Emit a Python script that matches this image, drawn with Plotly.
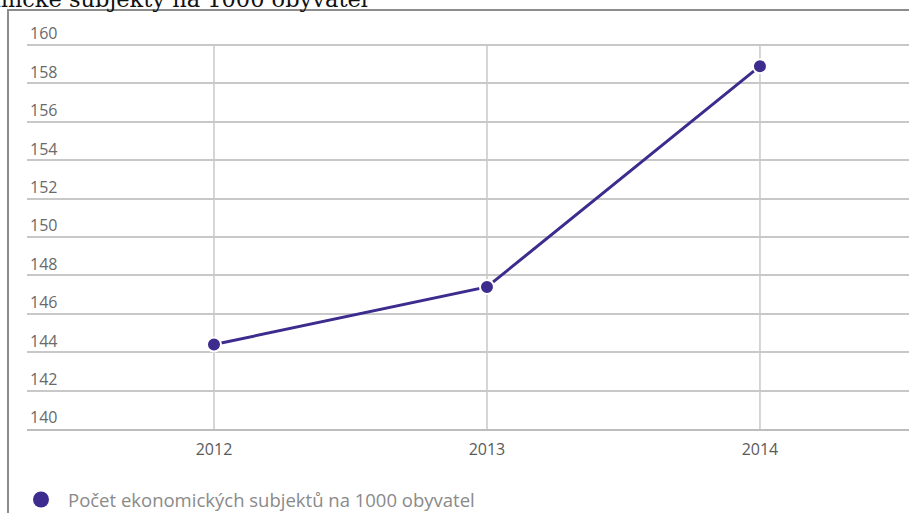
import plotly.graph_objects as go

years = [2012, 2013, 2014]
values = [144.4, 147.4, 158.9]
series_name = "Počet ekonomických subjektů na 1000 obyvatel"
title_text = "Ekonomické subjekty na 1000 obyvatel"
y_ticks = list(range(140, 161, 2))
y_min, y_max, y_top = 140, 160, 161.2

W, H = 909, 513
L, R, T, B = 27, 0, 22, 84
pw, ph = W - L - R, H - T - B

def px(x):
    return (x - L) / pw

def py(y):
    return (H - B - y) / ph

color = "#3d2b8e"
grid = "#c8c8c8"

fig = go.Figure()
fig.add_trace(go.Scatter(
    x=years, y=values, mode="lines+markers",
    line=dict(color=color, width=3),
    marker=dict(size=14, color=color, line=dict(color="white", width=2)),
    showlegend=False, cliponaxis=False,
))
fig.add_trace(go.Scatter(
    x=[None], y=[None], mode="markers", name=series_name,
    marker=dict(size=20, color=color), showlegend=True,
))

shapes = [
    dict(type="line", xref="x", yref="y", x0=yr, x1=yr, y0=y_min, y1=y_max,
         line=dict(color=grid, width=1.5), layer="below")
    for yr in years
]
shapes += [
    dict(type="line", xref="paper", yref="paper", x0=px(8), x1=px(8),
         y0=py(10), y1=py(520), line=dict(color="#8c8c8c", width=2)),
    dict(type="line", xref="paper", yref="paper", x0=px(7), x1=px(920),
         y0=py(10), y1=py(10), line=dict(color="#8c8c8c", width=2)),
]

fig.update_layout(
    width=W, height=H,
    margin=dict(l=L, r=R, t=T, b=B, autoexpand=False),
    paper_bgcolor="white", plot_bgcolor="white",
    font=dict(family="Open Sans", color="#666666"),
    xaxis=dict(
        range=[2011.315, 2014.546], tickvals=years, ticktext=[str(y) for y in years],
        showgrid=False, zeroline=False,
        showline=True, linecolor="#bdbdbd", linewidth=1.5,
        ticks="outside", ticklen=5, tickcolor="rgba(0,0,0,0)",
        tickfont=dict(size=16, color="#5a5a5a"),
    ),
    yaxis=dict(
        range=[y_min, y_top], tickvals=y_ticks,
        showgrid=True, gridcolor=grid, gridwidth=1.5,
        zeroline=False, showline=False, ticks="",
        ticklabelposition="inside top",
        tickfont=dict(size=16, color="#6a6a6a"),
    ),
    legend=dict(
        orientation="h", x=px(14), y=py(481), xanchor="left", yanchor="top",
        font=dict(size=18.5, color="#8a8a8a"), itemsizing="trace",
        itemwidth=44, bgcolor="rgba(0,0,0,0)",
    ),
    shapes=shapes,
    annotations=[
        dict(text=title_text, xref="paper", yref="paper", x=px(370), y=py(14),
             xanchor="right", yanchor="bottom", showarrow=False,
             font=dict(family="DejaVu Serif", size=22.5, color="#111111")),
    ],
)

fig.write_html("out.html", config={"displayModeBar": False},
               post_script="document.body.style.margin='0';")
